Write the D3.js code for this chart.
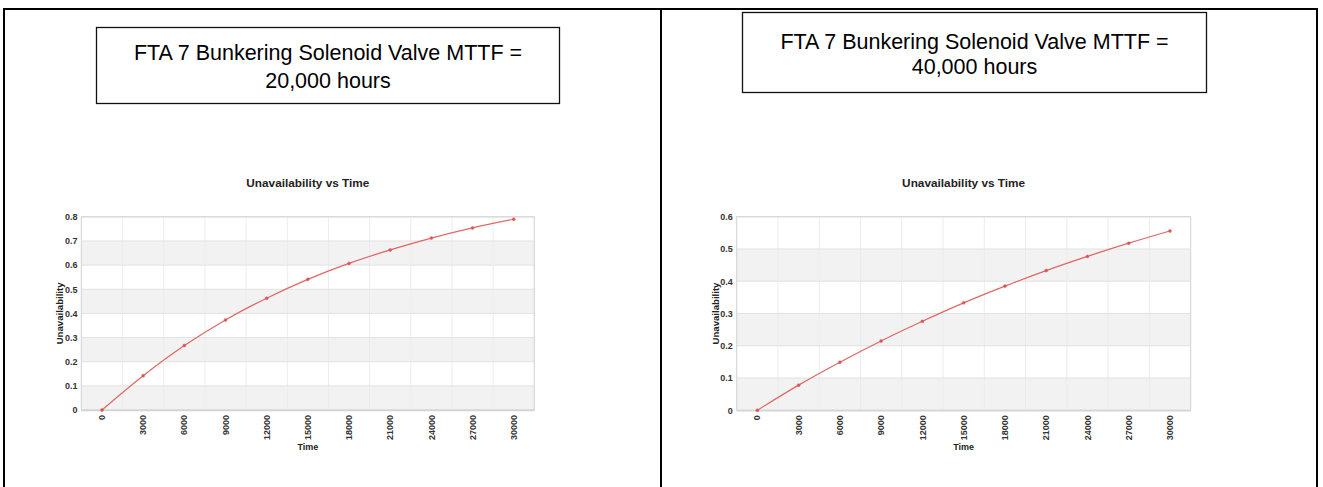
<!DOCTYPE html>
<html>
<head>
<meta charset="utf-8">
<script src="https://cdn.jsdelivr.net/npm/d3@7"></script>
<style>
  html, body { margin: 0; padding: 0; background: #fff; }
  svg { display: block; }
  text { font-family: "Liberation Sans", Arial, Helvetica, sans-serif; }
</style>
</head>
<body>
<svg id="chart" width="1323" height="487"></svg>
<script>
// ---------- data ----------
const timeCategories = ["0", "3000", "6000", "9000", "12000", "15000", "18000", "21000", "24000", "27000", "30000"];
const unavailMTTF20k = [0, 0.142, 0.267, 0.373, 0.463, 0.541, 0.607, 0.663, 0.712, 0.754, 0.790];
const unavailMTTF40k = [0, 0.078, 0.149, 0.215, 0.276, 0.333, 0.385, 0.433, 0.477, 0.518, 0.556];
const yTicks20k = [0, 0.1, 0.2, 0.3, 0.4, 0.5, 0.6, 0.7, 0.8];
const yTicks40k = [0, 0.1, 0.2, 0.3, 0.4, 0.5, 0.6];
const headingLines20k = ["FTA 7 Bunkering Solenoid Valve MTTF =", "20,000 hours"];
const headingLines40k = ["FTA 7 Bunkering Solenoid Valve MTTF =", "40,000 hours"];
const chartTitle = "Unavailability vs Time";
const xAxisTitle = "Time";
const yAxisTitle = "Unavailability";

const svg = d3.select("#chart");

// ---------- outer table frame ----------
const frame = svg.append("g").attr("stroke", "#000").attr("stroke-width", 2);
frame.append("line").attr("x1", 3).attr("x2", 1318).attr("y1", 9).attr("y2", 9);
frame.append("line").attr("x1", 4).attr("x2", 4).attr("y1", 8).attr("y2", 487);
frame.append("line").attr("x1", 661).attr("x2", 661).attr("y1", 8).attr("y2", 487);
frame.append("line").attr("x1", 1317).attr("x2", 1317).attr("y1", 8).attr("y2", 487);

// ---------- heading boxes ----------
function headingBox(lines, x, y, w, h, firstBaseline, lineGap) {
  const g = svg.append("g");
  g.append("rect").attr("x", x).attr("y", y).attr("width", w).attr("height", h)
    .attr("fill", "#fff").attr("stroke", "#111").attr("stroke-width", 1.3);
  g.selectAll("text").data(lines).join("text")
    .attr("x", x + w / 2)
    .attr("y", (d, i) => firstBaseline + i * lineGap)
    .attr("text-anchor", "middle")
    .attr("font-size", 21.5)
    .attr("fill", "#000")
    .text(d => d);
}
headingBox(headingLines20k, 96.5, 27.5, 463, 76, 60, 27.5);
headingBox(headingLines40k, 742.5, 12.5, 464, 80, 48.5, 25);

// ---------- chart ----------
function drawChart(values, yTicks, yMax, left, right, top, bottom) {
  const g = svg.append("g");
  const x = d3.scaleBand().domain(timeCategories).range([left, right]).padding(0);
  const y = d3.scaleLinear().domain([0, yMax]).range([bottom, top]);
  const cx = d => x(d) + x.bandwidth() / 2;

  // alternating bands
  const bands = [];
  for (let i = 0; i < yTicks.length - 1; i++) bands.push([yTicks[i], yTicks[i + 1], i % 2 === 0]);
  g.selectAll("rect.band").data(bands).join("rect")
    .attr("x", left).attr("width", right - left)
    .attr("y", d => y(d[1])).attr("height", d => y(d[0]) - y(d[1]))
    .attr("fill", d => d[2] ? "#f2f2f2" : "#ffffff");

  // vertical grid at band boundaries
  g.selectAll("line.vg").data(timeCategories.slice(1)).join("line")
    .attr("x1", d => x(d)).attr("x2", d => x(d))
    .attr("y1", top).attr("y2", bottom)
    .attr("stroke", "#ececec").attr("stroke-width", 1);

  // horizontal grid
  g.selectAll("line.hg").data(yTicks).join("line")
    .attr("x1", left).attr("x2", right)
    .attr("y1", d => y(d)).attr("y2", d => y(d))
    .attr("stroke", "#e2e2e2").attr("stroke-width", 1);

  // plot border
  g.append("rect").attr("x", left).attr("y", top)
    .attr("width", right - left).attr("height", bottom - top)
    .attr("fill", "none").attr("stroke", "#d8d8d8").attr("stroke-width", 1.2);
  g.append("line").attr("x1", left).attr("x2", right).attr("y1", bottom + 0.5).attr("y2", bottom + 0.5)
    .attr("stroke", "#d4d4d4").attr("stroke-width", 1.5);

  // y axis
  const yAxis = d3.axisLeft(y).tickValues(yTicks).tickSize(0).tickPadding(4)
    .tickFormat(d => d === 0 ? "0" : d3.format(".1f")(d));
  const ya = g.append("g").attr("transform", `translate(${left},0)`).call(yAxis);
  ya.select(".domain").remove();
  ya.selectAll("text").attr("font-size", 9).attr("font-weight", "bold").attr("fill", "#333")
    .attr("font-family", "Liberation Sans, Arial, sans-serif");

  // x axis (rotated labels)
  const xAxis = d3.axisBottom(x).tickSize(0).tickPadding(0);
  const xa = g.append("g").attr("transform", `translate(0,${bottom})`).call(xAxis);
  xa.select(".domain").remove();
  xa.selectAll("text")
    .attr("font-size", 9).attr("font-weight", "bold").attr("fill", "#333")
    .attr("font-family", "Liberation Sans, Arial, sans-serif")
    .attr("text-anchor", "end")
    .attr("dy", "0.35em")
    .attr("transform", "translate(0,5) rotate(-90)")
    .attr("x", 0).attr("y", 0);

  // line + markers
  const pts = timeCategories.map((c, i) => [cx(c), y(values[i])]);
  g.append("path").datum(pts)
    .attr("d", d3.line().curve(d3.curveMonotoneX))
    .attr("fill", "none").attr("stroke", "#e06666").attr("stroke-width", 1.2);
  g.selectAll("circle").data(pts).join("circle")
    .attr("cx", d => d[0]).attr("cy", d => d[1]).attr("r", 1.5)
    .attr("fill", "#d9534f").attr("stroke", "#e06666").attr("stroke-width", 0.5);

  // titles
  const mid = (left + right) / 2;
  g.append("text").attr("x", mid).attr("y", top - 30).attr("text-anchor", "middle")
    .attr("font-size", 11.8).attr("font-weight", "bold").attr("fill", "#222").text(chartTitle);
  g.append("text").attr("x", mid).attr("y", 449.5).attr("text-anchor", "middle")
    .attr("font-size", 9).attr("font-weight", "bold").attr("fill", "#222").text(xAxisTitle);
  g.append("text")
    .attr("transform", `translate(${left - 18},${(top + bottom) / 2}) rotate(-90)`)
    .attr("text-anchor", "middle")
    .attr("font-size", 9.6).attr("font-weight", "bold").attr("fill", "#222").text(yAxisTitle);
}

drawChart(unavailMTTF20k, yTicks20k, 0.8, 81.4, 534.3, 216.8, 410);
drawChart(unavailMTTF40k, yTicks40k, 0.6, 736.7, 1190.6, 216.7, 410.3);
</script>
</body>
</html>
